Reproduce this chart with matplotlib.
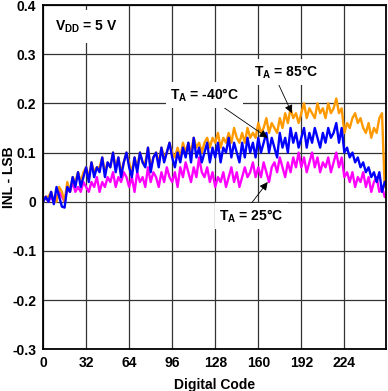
import numpy as np
import matplotlib
matplotlib.use('Agg')
import matplotlib.pyplot as plt

plt.rcParams['font.family'] = ['Liberation Sans', 'DejaVu Sans']
plt.rcParams['font.weight'] = 'bold'
plt.rcParams['mathtext.fontset'] = 'custom'
plt.rcParams['mathtext.rm'] = 'Liberation Sans:bold'
plt.rcParams['mathtext.it'] = 'Liberation Sans:bold'
plt.rcParams['mathtext.bf'] = 'Liberation Sans:bold'

# digital codes, every 2 codes
codes = list(range(0, 256, 2))

inl_m40 = [
    0.00, 0.01, 0.00, 0.02, -0.005, 0.03, 0.01, -0.01, -0.012, 0.03, 0.02, 0.05, 0.03, 0.06, 0.03, 0.05,
    0.07, 0.04, 0.08, 0.05, 0.07, 0.06, 0.09, 0.05, 0.08, 0.07, 0.10, 0.06, 0.09, 0.05, 0.08, 0.10,
    0.07, 0.05, 0.09, 0.06, 0.10, 0.08, 0.07, 0.11, 0.06, 0.09, 0.10, 0.07, 0.11, 0.08, 0.10, 0.12,
    0.09, 0.07, 0.10, 0.08, 0.11, 0.09, 0.12, 0.08, 0.13, 0.09, 0.11, 0.08, 0.10, 0.12, 0.08, 0.11,
    0.09, 0.12, 0.08, 0.11, 0.10, 0.13, 0.09, 0.12, 0.10, 0.08, 0.12, 0.09, 0.13, 0.10, 0.12, 0.09,
    0.13, 0.10, 0.12, 0.14, 0.10, 0.13, 0.11, 0.09, 0.14, 0.11, 0.13, 0.10, 0.15, 0.12, 0.14, 0.11,
    0.13, 0.15, 0.11, 0.14, 0.12, 0.15, 0.13, 0.11, 0.14, 0.12, 0.15, 0.13, 0.14, 0.16, 0.12, 0.15,
    0.10, 0.11, 0.09, 0.10, 0.08, 0.09, 0.07, 0.08, 0.06, 0.07, 0.05, 0.06, 0.04, 0.06, 0.02, 0.04,
]

inl_85 = [
    0.00, 0.01, 0.01, 0.02, 0.00, 0.00, 0.03, 0.02, 0.00, 0.04, 0.02, 0.05, 0.04, 0.06, 0.04, 0.06,
    0.07, 0.05, 0.08, 0.06, 0.07, 0.07, 0.09, 0.06, 0.08, 0.07, 0.10, 0.07, 0.09, 0.06, 0.08, 0.10,
    0.08, 0.06, 0.09, 0.07, 0.10, 0.08, 0.08, 0.11, 0.07, 0.09, 0.10, 0.08, 0.11, 0.09, 0.10, 0.12,
    0.10, 0.09, 0.11, 0.09, 0.12, 0.10, 0.12, 0.10, 0.13, 0.11, 0.12, 0.10, 0.12, 0.13, 0.11, 0.13,
    0.12, 0.14, 0.11, 0.13, 0.12, 0.14, 0.12, 0.15, 0.13, 0.12, 0.14, 0.12, 0.15, 0.13, 0.14, 0.13,
    0.16, 0.14, 0.15, 0.17, 0.14, 0.16, 0.15, 0.14, 0.17, 0.15, 0.18, 0.16, 0.19, 0.17, 0.18, 0.16,
    0.18, 0.20, 0.17, 0.19, 0.18, 0.17, 0.20, 0.18, 0.19, 0.17, 0.20, 0.18, 0.19, 0.21, 0.18, 0.19,
    0.14, 0.16, 0.15, 0.17, 0.18, 0.16, 0.17, 0.15, 0.14, 0.16, 0.13, 0.15, 0.14, 0.17, 0.18, 0.03,
]

inl_25 = [
    0.00, 0.01, 0.00, 0.01, 0.00, 0.01, 0.02, 0.01, 0.00, 0.03, 0.02, 0.04, 0.02, 0.03, 0.02, 0.04,
    0.03, 0.02, 0.04, 0.03, 0.05, 0.02, 0.04, 0.03, 0.05, 0.04, 0.06, 0.03, 0.05, 0.04, 0.06, 0.05,
    0.03, 0.05, 0.02, 0.06, 0.04, 0.05, 0.03, 0.07, 0.04, 0.06, 0.05, 0.03, 0.06, 0.04, 0.07, 0.05,
    0.04, 0.06, 0.03, 0.07, 0.05, 0.08, 0.06, 0.04, 0.07, 0.05, 0.09, 0.06, 0.05, 0.07, 0.04, 0.06,
    0.03, 0.05, 0.04, 0.06, 0.03, 0.05, 0.07, 0.04, 0.06, 0.03, 0.05, 0.07, 0.05, 0.06, 0.08, 0.05,
    0.07, 0.05, 0.08, 0.06, 0.04, 0.07, 0.08, 0.06, 0.09, 0.07, 0.05, 0.08, 0.06, 0.09, 0.07, 0.10,
    0.07, 0.09, 0.06, 0.08, 0.10, 0.07, 0.09, 0.06, 0.08, 0.07, 0.09, 0.06, 0.08, 0.10, 0.07, 0.09,
    0.05, 0.06, 0.04, 0.06, 0.03, 0.05, 0.04, 0.06, 0.03, 0.05, 0.02, 0.04, 0.05, 0.02, 0.03, 0.01,
]

xticks = [0, 32, 64, 96, 128, 160, 192, 224]
yticks = [-0.3, -0.2, -0.1, 0, 0.1, 0.2, 0.3, 0.4]
ytick_labels = ['-0.3', '-0.2', '-0.1', '0', '0.1', '0.2', '0.3', '0.4']

fig = plt.figure(figsize=(3.88, 3.91), dpi=100)
ax = fig.add_axes([0.111, 0.107, 0.884, 0.880])

ax.plot(codes, inl_25, color='#FF00FF', lw=1.7, zorder=3)
ax.plot(codes, inl_85, color='#FF9900', lw=1.7, zorder=4)
ax.plot(codes, inl_m40, color='#0000FF', lw=1.7, zorder=5)

ax.set_xlim(0, 255)
ax.set_ylim(-0.3, 0.4)
ax.set_xticks(xticks)
ax.set_yticks(yticks)
ax.set_yticklabels(ytick_labels)
ax.tick_params(length=0, labelsize=10, pad=5)
for lab in ax.get_xticklabels() + ax.get_yticklabels():
    lab.set_fontweight('bold')
ax.grid(True, color='#333333', lw=0.9, zorder=1)
for s in ax.spines.values():
    s.set_linewidth(1.3)
    s.set_zorder(6)

ax.set_xlabel('Digital Code', fontsize=10, fontweight='bold', labelpad=6)
ax.set_ylabel('INL - LSB', fontsize=10, fontweight='bold')
ax.yaxis.set_label_coords(-0.08, 0.5)

box = dict(facecolor='white', edgecolor='none', pad=3)
arrow = dict(arrowstyle='-|>', lw=0.6, color='black', mutation_scale=12,
             shrinkA=0, shrinkB=0)

ax.text(32, 0.356, r'V$_{\mathrm{DD}}$ = 5 V', fontsize=10, ha='center', va='center',
        bbox=dict(facecolor='white', edgecolor='none', pad=6), zorder=7)

ax.annotate(r'T$_{\mathrm{A}}$ = 85°C', xy=(185, 0.180), xytext=(181, 0.264),
            fontsize=10, ha='center', va='center', bbox=box, zorder=7,
            arrowprops=dict(arrow, relpos=(0.35, 0.0)))
ax.annotate(r'T$_{\mathrm{A}}$ = -40°C', xy=(167, 0.130), xytext=(120, 0.217),
            fontsize=10, ha='center', va='center', bbox=box, zorder=7,
            arrowprops=dict(arrow, relpos=(0.7, 0.0)))
ax.annotate(r'T$_{\mathrm{A}}$ = 25°C', xy=(167, 0.040), xytext=(155, -0.029),
            fontsize=10, ha='center', va='center', bbox=box, zorder=7,
            arrowprops=dict(arrow, relpos=(0.45, 1.0)))

fig.savefig('out.png', dpi=100)
